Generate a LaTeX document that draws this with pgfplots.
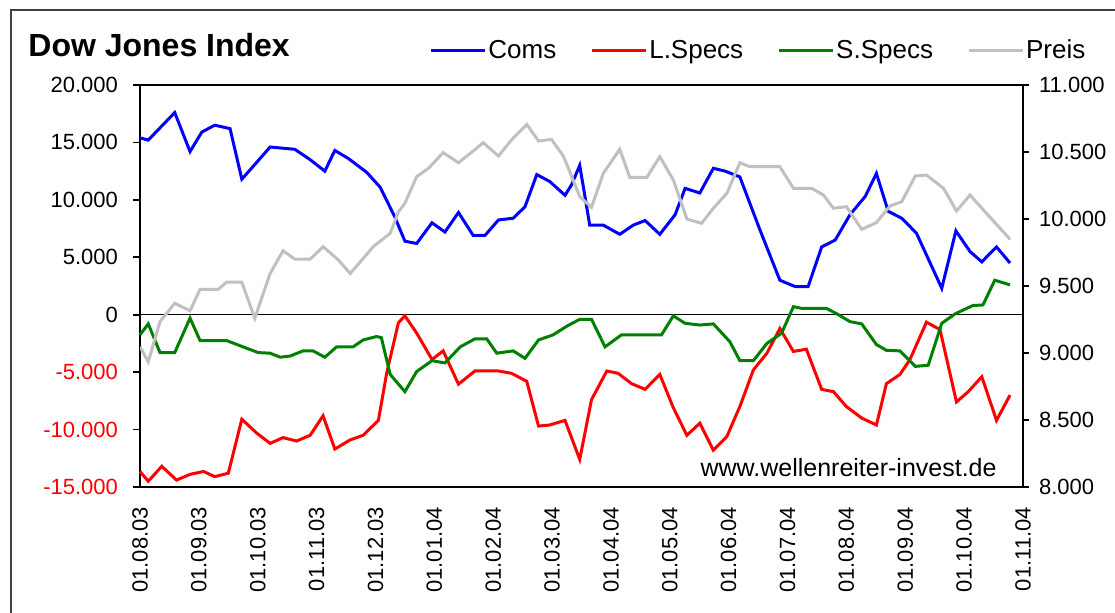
\documentclass[border=0pt]{standalone}
\usepackage{pgfplots}
\pgfplotsset{compat=1.18}
\usepackage{fontspec}
\setmainfont{Liberation Sans}

\definecolor{coms}{RGB}{0,0,255}
\definecolor{lspecs}{RGB}{255,0,0}
\definecolor{sspecs}{RGB}{0,128,0}
\definecolor{preis}{RGB}{192,192,192}

\pgfplotsset{
  tickfont/.style={font=\fontsize{11}{13}\selectfont},
  /pgf/number format/assume math mode=true,
}

\begin{document}
\begin{tikzpicture}
\useasboundingbox (0pt,0pt) rectangle (557.5pt,-306.5pt);
% outer frame (left and top edges visible)
\draw[black!75, line width=1pt] (5.25pt,-310pt) -- (5.25pt,-5.25pt) -- (560pt,-5.25pt);

\node[anchor=base west, inner sep=0pt, font=\bfseries\fontsize{16}{19}\selectfont]
  at (14pt,-28.5pt) {Dow Jones Index};

% left axis: Coms, L.Specs, S.Specs
\begin{axis}[
  at={(70pt,-42.5pt)}, anchor=north west,
  scale only axis, width=441.5pt, height=201pt,
  xmin=0, xmax=15, ymin=-15000, ymax=20000,
  xtick={0,...,15},
  xticklabels={01.08.03,01.09.03,01.10.03,01.11.03,01.12.03,01.01.04,01.02.04,01.03.04,
               01.04.04,01.05.04,01.06.04,01.07.04,01.08.04,01.09.04,01.10.04,01.11.04},
  xticklabel style={tickfont, rotate=90, anchor=east, xshift=-3pt},
  x tick style={draw=none},
  ytick={-15000,-10000,-5000,0,5000,10000,15000,20000},
  yticklabels={\textcolor{red}{-15.000},\textcolor{red}{-10.000},\textcolor{red}{-5.000},
               0,5.000,10.000,15.000,20.000},
  yticklabel style={tickfont, xshift=-4pt},
  ytick pos=left, tick align=outside, major tick length=3.5pt,
  y tick style={black, line width=0.8pt},
  axis line style={black, line width=1pt},
  scaled y ticks=false,
  clip=false,
  legend style={draw=none, fill=none},
]
\draw[black, line width=0.6pt] (axis cs:0,0) -- (axis cs:15,0);

\addplot[coms, line width=1.5pt] table {
x y
0.00 15400
0.14 15200
0.59 17600
0.85 14200
1.05 15900
1.27 16500
1.53 16200
1.73 11800
1.92 12900
2.21 14600
2.63 14400
2.89 13500
3.14 12500
3.31 14300
3.54 13600
3.85 12400
4.08 11100
4.33 8500
4.50 6400
4.70 6200
4.96 8000
5.18 7200
5.41 8900
5.66 6900
5.86 6900
6.09 8250
6.34 8400
6.54 9400
6.74 12200
6.96 11600
7.22 10400
7.33 11300
7.47 13000
7.64 7800
7.87 7800
8.15 7000
8.38 7800
8.58 8200
8.83 7000
9.09 8700
9.26 11000
9.51 10600
9.74 12750
9.94 12500
10.19 12000
10.53 7400
10.87 3000
11.13 2450
11.35 2450
11.58 5900
11.81 6500
12.06 8700
12.32 10300
12.51 12300
12.71 9000
12.94 8400
13.19 7100
13.62 2300
13.86 7300
14.10 5500
14.30 4600
14.55 5900
14.78 4500
};

\addplot[lspecs, line width=1.5pt] table {
x y
0.00 -13650
0.14 -14500
0.37 -13200
0.62 -14400
0.85 -13900
1.08 -13650
1.27 -14100
1.50 -13800
1.73 -9100
1.98 -10300
2.21 -11200
2.43 -10700
2.66 -11000
2.89 -10500
3.11 -8800
3.31 -11700
3.57 -10900
3.79 -10500
4.05 -9200
4.19 -5100
4.39 -700
4.50 -100
4.70 -1600
4.96 -3900
5.15 -3150
5.41 -6050
5.69 -4900
6.09 -4900
6.31 -5100
6.57 -5800
6.77 -9700
6.96 -9600
7.22 -9200
7.47 -12600
7.67 -7400
7.93 -4900
8.12 -5100
8.35 -6000
8.58 -6500
8.83 -5200
9.06 -8100
9.29 -10500
9.51 -9450
9.74 -11800
9.97 -10600
10.19 -8000
10.42 -4800
10.65 -3350
10.87 -1200
11.10 -3200
11.32 -3000
11.58 -6500
11.78 -6700
12.00 -8000
12.26 -9000
12.51 -9600
12.68 -6000
12.91 -5200
13.08 -3900
13.36 -650
13.59 -1300
13.87 -7600
14.07 -6700
14.30 -5400
14.55 -9200
14.78 -7000
};

\addplot[sspecs, line width=1.5pt] table {
x y
0.00 -1750
0.14 -800
0.34 -3300
0.59 -3300
0.85 -300
1.02 -2250
1.47 -2250
1.75 -2800
2.01 -3300
2.21 -3350
2.38 -3700
2.55 -3600
2.77 -3150
2.94 -3150
3.14 -3700
3.34 -2800
3.62 -2800
3.79 -2200
4.02 -1900
4.10 -2000
4.25 -5200
4.50 -6700
4.70 -4950
4.96 -4000
5.18 -4200
5.44 -2800
5.69 -2100
5.89 -2100
6.06 -3350
6.34 -3150
6.54 -3800
6.77 -2200
7.02 -1750
7.25 -1000
7.47 -400
7.67 -400
7.90 -2800
8.18 -1750
8.86 -1750
9.06 -100
9.26 -750
9.51 -900
9.74 -800
10.02 -2350
10.19 -4000
10.42 -4000
10.65 -2500
10.90 -1600
11.10 700
11.24 550
11.66 550
11.83 100
12.06 -600
12.26 -800
12.51 -2600
12.68 -3100
12.91 -3150
13.17 -4500
13.39 -4400
13.62 -750
13.84 50
13.98 400
14.15 800
14.32 850
14.52 3000
14.78 2600
};

\node[anchor=base east, inner sep=0pt, font=\fontsize{12.5}{15}\selectfont]
  at (rel axis cs:0.9705,0.0256) {www.wellenreiter-invest.de};
\end{axis}

% right axis: Preis
\begin{axis}[
  at={(70pt,-42.5pt)}, anchor=north west,
  scale only axis, width=441.5pt, height=201pt,
  xmin=0, xmax=15, ymin=8000, ymax=11000,
  axis x line=none, axis y line*=right,
  ytick={8000,8500,9000,9500,10000,10500,11000},
  yticklabels={8.000,8.500,9.000,9.500,10.000,10.500,11.000},
  yticklabel style={tickfont, xshift=1.5pt},
  tick align=outside, major tick length=3pt,
  y tick style={black, line width=0.8pt},
  axis line style={black, line width=1pt},
  scaled y ticks=false,
  legend columns=4,
  legend image code/.code={\draw[#1] (0pt,0pt) -- (27pt,0pt);},
  legend style={at={(0.3273,1.0846)}, anchor=west, draw=none, fill=none,
    inner sep=0pt, font=\fontsize{13}{15}\selectfont,
    nodes={inner sep=1pt},
    /tikz/every even column/.append style={column sep=16pt}},
]
\addlegendimage{coms, line width=1.5pt}
\addlegendentry{Coms}
\addlegendimage{lspecs, line width=1.5pt}
\addlegendentry{L.Specs}
\addlegendimage{sspecs, line width=1.5pt}
\addlegendentry{S.Specs}

\addplot[preis, line width=1.5pt] table {
x y
0.00 9047
0.14 8935
0.34 9234
0.59 9371
0.85 9315
1.02 9475
1.33 9475
1.47 9528
1.73 9528
1.95 9259
2.21 9593
2.43 9763
2.63 9700
2.89 9700
3.11 9793
3.37 9694
3.57 9593
3.77 9694
3.96 9793
4.25 9893
4.39 10054
4.50 10117
4.70 10316
4.90 10378
5.15 10495
5.41 10420
5.61 10490
5.83 10569
6.09 10470
6.31 10590
6.57 10706
6.77 10582
6.99 10594
7.19 10470
7.33 10321
7.47 10167
7.67 10087
7.87 10341
8.15 10520
8.32 10311
8.61 10311
8.83 10465
9.06 10291
9.29 10000
9.54 9968
9.74 10080
9.97 10192
10.19 10420
10.36 10390
10.87 10390
11.10 10229
11.41 10229
11.61 10179
11.78 10080
12.00 10092
12.26 9923
12.51 9973
12.74 10097
12.94 10129
13.17 10321
13.36 10328
13.65 10229
13.87 10060
14.10 10179
14.38 10042
14.78 9848
};
\addlegendentry{Preis}
\end{axis}
\end{tikzpicture}
\end{document}
